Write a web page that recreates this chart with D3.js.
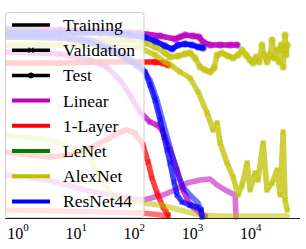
<!DOCTYPE html>
<html>
<head>
<meta charset="utf-8">
<script src="https://cdn.jsdelivr.net/npm/d3@7"></script>
<style>
body{margin:0;background:#fff}
svg{display:block}
</style>
</head>
<body>
<svg width="306" height="249"></svg>
<script>
// data: [iteration, value]
var linearTrain = [[0.6,0.215],[3.2,0.19],[19.5,0.13],[141,0.09],[311,0.115],[500,0.14],[805,0.175],[1346,0.19],[2000,0.195],[2640,0.165],[3620,0.14],[5370,0.115],[5580,0.005]];
var linearVal = [[0.6,0.83],[5.3,0.82],[17.3,0.79],[33,0.755],[57,0.69],[84,0.615],[125,0.53],[186,0.48],[245,0.465],[299,0.44],[410,0.34],[542,0.24],[687,0.14],[906,0.065],[1346,0.025],[1640,0.01]];
var linearTest = [[0.6,0.94],[5.3,0.94],[26,0.935],[125,0.925],[277,0.91],[500,0.895],[611,0.905],[743,0.915],[1021,0.91],[1294,0.905],[1515,0.88],[2000,0.865],[2970,0.865],[4410,0.865],[5800,0.865]];

var layer1Train = [[0.6,0.04],[5.3,0.035],[26,0.03],[141,0.025],[277,0.015],[379,0.01]];
var layer1Val = [[0.6,0.33],[1.6,0.315],[3.6,0.305],[7.9,0.315],[17.3,0.35],[38,0.4],[57,0.43],[75,0.44],[103,0.425],[141,0.365],[172,0.28],[201,0.2],[245,0.125],[311,0.055],[379,0.015]];
var layer1Test = [[0.6,0.775],[5.3,0.775],[26,0.78],[125,0.78],[227,0.78],[311,0.775],[379,0.765]];

var lenetTrain = [[0.6,0.95],[1.09,0.95],[2.13,0.955]];

var alexTrain = [[0.6,0.415],[3.6,0.39],[15.4,0.325],[26,0.19],[43,0.105],[141,0.075],[277,0.065],[611,0.04],[1346,0.015],[2970,0.01],[42100,0.01]];
var alexVal = [[0.6,0.865],[5.3,0.865],[26,0.86],[125,0.85],[227,0.815],[337,0.78],[444,0.76],[611,0.73],[906,0.7],[1244,0.63],[1775,0.525],[2250,0.44],[2640,0.475],[2970,0.375],[3920,0.275],[4960,0.205],[6050,0.115],[7080,0.165],[8630,0.275],[9720,0.14],[11850,0.225],[13300,0.19],[16300,0.375],[19000,0.14],[23200,0.175],[28300,0.24],[31900,0.115],[35900,0.43],[38800,0.09],[42100,0.04]];
var alexTest = [[0.6,0.905],[5.3,0.9],[26,0.89],[84,0.89],[153,0.875],[227,0.855],[337,0.825],[410,0.805],[564,0.81],[743,0.82],[906,0.825],[1105,0.8],[1346,0.755],[1640,0.74],[2000,0.73],[2340,0.75],[2640,0.815],[3210,0.825],[4070,0.81],[4960,0.8],[6050,0.815],[7080,0.84],[8300,0.815],[9720,0.79],[10900,0.775],[12300,0.805],[13900,0.78],[15600,0.865],[16900,0.815],[19000,0.78],[21500,0.815],[23200,0.89],[25100,0.8],[28300,0.84],[30600,0.78],[33200,0.865],[35900,0.755],[37300,0.84],[38800,0.915],[40400,0.815],[42100,0.865]];

var resTrain = [[0.6,0.915],[5.3,0.91],[17.3,0.89],[38,0.855],[69,0.815],[125,0.765],[186,0.69],[245,0.59],[311,0.48],[379,0.39],[462,0.3],[564,0.215],[687,0.155],[906,0.115],[1244,0.075],[1400,0.04]];
var resVal = [[0.6,0.905],[5.3,0.9],[17.3,0.88],[38,0.84],[69,0.8],[111,0.76],[153,0.73],[186,0.665],[227,0.59],[277,0.49],[324,0.405],[365,0.34],[410,0.275],[481,0.18],[542,0.115],[661,0.08],[906,0.065],[1195,0.055],[1400,0.04],[1456,0.005]];
var resTest = [[0.6,0.925],[5.3,0.925],[26,0.925],[84,0.915],[147,0.905],[227,0.885],[337,0.86],[444,0.845],[564,0.865],[743,0.87],[982,0.865],[1244,0.855],[1515,0.85]];

var models = ["Linear","1-Layer","LeNet","AlexNet","ResNet44"];
var modelColors = ["#bf00bf","#ff0000","#008000","#bfbf00","#0000ff"];
var tickValues = [1,10,100,1000,10000];

var series = [
  {m:0,kind:"train",data:linearTrain},{m:0,kind:"val",data:linearVal},{m:0,kind:"test",data:linearTest},
  {m:1,kind:"train",data:layer1Train},{m:1,kind:"val",data:layer1Val},{m:1,kind:"test",data:layer1Test},
  {m:2,kind:"train",data:lenetTrain},
  {m:3,kind:"train",data:alexTrain},{m:3,kind:"val",data:alexVal},{m:3,kind:"test",data:alexTest},
  {m:4,kind:"train",data:resTrain},{m:4,kind:"val",data:resVal},{m:4,kind:"test",data:resTest}
];

var svg = d3.select("svg");
var x = d3.scaleLog().domain([0.6,70000]).range([5,300]);
var y = d3.scaleLinear().domain([0,1]).range([218,18]);

svg.append("clipPath").attr("id","clip")
  .append("rect").attr("x",5).attr("y",0).attr("width",295).attr("height",220);

var g = svg.append("g").attr("clip-path","url(#clip)");
var line = d3.line().x(function(d){ return x(d[0]); }).y(function(d){ return y(d[1]); });

series.forEach(function(s){
  var c = modelColors[s.m];
  g.append("path")
    .attr("d", line(s.data))
    .attr("fill","none")
    .attr("stroke",c)
    .attr("stroke-width",5.5)
    .attr("stroke-linejoin","round")
    .attr("stroke-linecap","round")
    .attr("stroke-opacity", s.kind=="train" ? 0.55 : (s.kind=="test" && s.m!=3 ? 0.9 : 0.75));
  if (s.kind=="test") {
    g.selectAll(null).data(s.data).enter().append("circle")
      .attr("cx",function(d){ return x(d[0]); })
      .attr("cy",function(d){ return y(d[1]); })
      .attr("r",3.8)
      .attr("fill",c)
      .attr("fill-opacity",0.5);
  } else if (s.kind=="val") {
    g.selectAll(null).data(s.data).enter().append("path")
      .attr("transform",function(d){ return "translate("+x(d[0])+","+y(d[1])+")"; })
      .attr("d","M-2.5,-2.5L2.5,2.5M-2.5,2.5L2.5,-2.5")
      .attr("stroke",c)
      .attr("stroke-width",1.2)
      .attr("stroke-opacity",0.6);
  }
});

// x axis
svg.append("line").attr("x1",5).attr("x2",300).attr("y1",218.5).attr("y2",218.5)
  .attr("stroke","#222").attr("stroke-width",1);

var ticks = svg.selectAll(".tick").data(tickValues).enter().append("text")
  .attr("class","tick")
  .attr("x",function(d){ return x(d); })
  .attr("y",239)
  .attr("text-anchor","middle")
  .attr("font-family","'Liberation Serif', 'Times New Roman', serif")
  .attr("font-size",16)
  .attr("fill","#000");
ticks.append("tspan").text("10");
ticks.append("tspan").attr("dy",-8.5).attr("font-size",11)
  .text(function(d){ return Math.round(Math.log10(d)); });

// legend
var leg = svg.append("g");
leg.append("rect").attr("x",5.5).attr("y",12.5).attr("width",138.5).attr("height",205)
  .attr("rx",3).attr("fill","#fff").attr("fill-opacity",0.8).attr("stroke","#ccc");

var labels = ["Training","Validation","Test"].concat(models);
labels.forEach(function(t,i){
  var cy = 25 + i*25.2;
  var c = i < 3 ? "#000" : modelColors[i-3];
  leg.append("line").attr("x1",12).attr("x2",50).attr("y1",cy).attr("y2",cy)
    .attr("stroke",c).attr("stroke-width", i<3 ? 3.5 : 4);
  if (i==1) {
    leg.append("path").attr("transform","translate(31,"+cy+")")
      .attr("d","M-2.5,-2.5L2.5,2.5M-2.5,2.5L2.5,-2.5").attr("stroke","#000").attr("stroke-width",1.2);
  }
  if (i==2) {
    leg.append("circle").attr("cx",31).attr("cy",cy).attr("r",2.8).attr("fill","#000");
  }
  leg.append("text").attr("x",63).attr("y",cy+6)
    .attr("font-family","'Liberation Serif', 'Times New Roman', serif")
    .attr("font-size",17.5)
    .attr("fill","#000")
    .text(t);
});
</script>
</body>
</html>
